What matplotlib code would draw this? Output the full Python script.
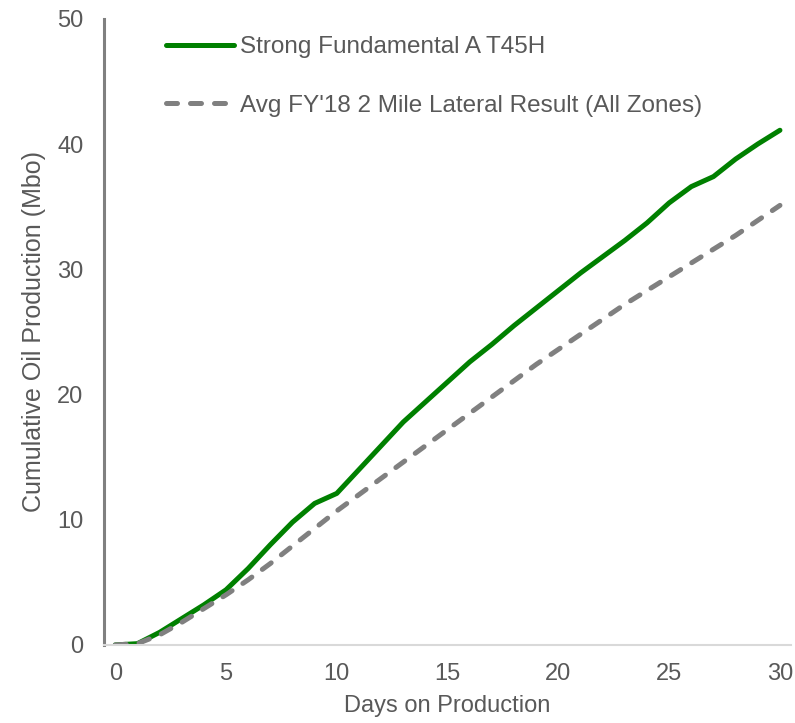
import matplotlib.pyplot as plt

# data
days = list(range(0, 31))
strong_fundamental = [0, 0.1, 1.0, 2.1, 3.2, 4.4, 6.1, 8.0, 9.8, 11.3, 12.1,
                      14.0, 15.9, 17.8, 19.4, 21.0, 22.6, 24.0, 25.5, 26.9, 28.3,
                      29.7, 31.0, 32.3, 33.7, 35.3, 36.6, 37.4, 38.8, 40.0, 41.1]
avg_fy18 = [0, 0.1, 0.8, 1.8, 2.9, 4.0, 5.2, 6.5, 7.9, 9.3, 10.7,
            12.0, 13.3, 14.6, 15.9, 17.2, 18.5, 19.8, 21.1, 22.4, 23.6,
            24.8, 26.0, 27.2, 28.3, 29.4, 30.5, 31.6, 32.7, 33.9, 35.1]

TEXT_COLOR = "#595959"

plt.rcParams["font.family"] = ["Liberation Sans", "DejaVu Sans"]

fig = plt.figure(figsize=(7.95, 7.23), dpi=100)
ax = fig.add_axes([0.131, 0.108, 0.864, 0.866])

ax.plot(days, strong_fundamental, color="#008000", linewidth=3.6,
        solid_capstyle="round", label="Strong Fundamental A T45H")
ax.plot(days, avg_fy18, color="#808080", linewidth=3.6,
        linestyle=(0, (2.2, 2.6)), dash_capstyle="round",
        label="Avg FY'18 2 Mile Lateral Result (All Zones)")

ax.set_xlim(-0.5, 30.5)
ax.set_ylim(0, 50)
ax.set_xticks(range(0, 31, 5))
ax.set_yticks(range(0, 51, 10))

for side in ["top", "right"]:
    ax.spines[side].set_visible(False)
ax.spines["left"].set_color("#808080")
ax.spines["left"].set_linewidth(2.2)
ax.spines["bottom"].set_color("#d9d9d9")
ax.spines["bottom"].set_linewidth(1.5)

ax.tick_params(axis="x", length=0, pad=13, labelsize=17, labelcolor=TEXT_COLOR)
ax.tick_params(axis="y", length=0, pad=15, labelsize=17, labelcolor=TEXT_COLOR)

ax.set_xlabel("Days on Production", fontsize=17, color=TEXT_COLOR, labelpad=7)
ax.set_ylabel("Cumulative Oil Production (Mbo)", fontsize=18, color=TEXT_COLOR, labelpad=8)

leg = ax.legend(loc="upper left", bbox_to_anchor=(0.09, 0.972), frameon=False,
                fontsize=17.5, handlelength=2.8, handletextpad=0.25,
                labelspacing=1.5, borderpad=0, borderaxespad=0)
for t in leg.get_texts():
    t.set_color(TEXT_COLOR)

fig.savefig("out.png", dpi=100)
